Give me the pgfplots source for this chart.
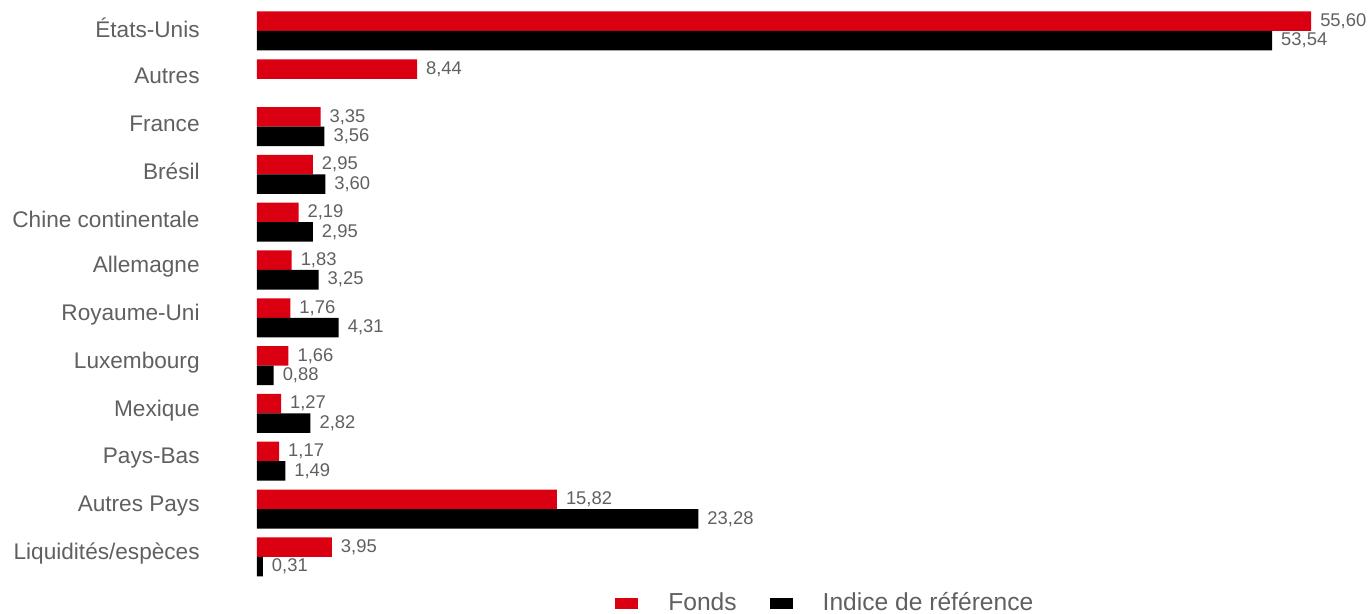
\documentclass[border=0pt]{standalone}
\usepackage{fontspec}
\setmainfont{Liberation Sans}
\usepackage{pgfplots}
\pgfplotsset{compat=1.18}
\definecolor{fonds}{HTML}{DB0011}
\definecolor{indice}{HTML}{000000}
\definecolor{txt}{HTML}{606060}

\begin{document}
\begin{tikzpicture}
\begin{axis}[
  xbar,
  x=9.48pt, y=23.9pt,
  y dir=reverse,
  xmin=0, xmax=58,
  ymin=-0.5, ymax=11.5,
  clip=false,
  axis line style={draw=none},
  xtick=\empty,
  ytick={0,...,11},
  yticklabels={États-Unis,Autres,France,Brésil,Chine continentale,Allemagne,Royaume-Uni,Luxembourg,Mexique,Pays-Bas,Autres Pays,Liquidités/espèces},
  major tick length=0pt,
  tick style={draw=none},
  yticklabel style={font=\fontsize{11.3}{13}\selectfont, text=txt, anchor=east, inner sep=0pt, xshift=-28.5pt, yshift=1.5pt},
  bar width=9.75pt,
  point meta=x,
  nodes near coords,
  nodes near coords align=horizontal,
  every node near coord/.append style={font=\fontsize{9.2}{11}\selectfont, text=txt, xshift=1pt},
  /pgf/number format/.cd, fixed, fixed zerofill, precision=2, use comma, assume math mode=true,
  /pgfplots/.cd,
  legend style={at={(0.3255,-0.0389)}, anchor=west, draw=none, fill=none,
    font=\fontsize{12.3}{14}\selectfont, text=txt, legend columns=2, inner sep=0pt,
    /tikz/every odd column/.style={column sep=15pt},
    /tikz/every even column/.style={column sep=16.5pt},
    nodes={inner sep=0pt}},
  legend image code/.code={\fill[draw=none] (0pt,-2.75pt) rectangle (11.5pt,2.75pt);},
]
\addplot[fill=fonds, draw=none, bar shift=4.875pt] coordinates {
  (55.60,0) (8.44,1) (3.35,2) (2.95,3) (2.19,4) (1.83,5)
  (1.76,6) (1.66,7) (1.27,8) (1.17,9) (15.82,10) (3.95,11)};
\addplot[fill=indice, draw=none, bar shift=-4.875pt] coordinates {
  (53.54,0) (3.56,2) (3.60,3) (2.95,4) (3.25,5)
  (4.31,6) (0.88,7) (2.82,8) (1.49,9) (23.28,10) (0.31,11)};
\legend{Fonds, Indice de référence}
\coordinate (o) at (axis cs:0,0);
\end{axis}
\pgfresetboundingbox
\path[use as bounding box] ([xshift=-128.5pt,yshift=15.5pt]o) rectangle ([xshift=555.5pt,yshift=-291.5pt]o);
\end{tikzpicture}
\end{document}
